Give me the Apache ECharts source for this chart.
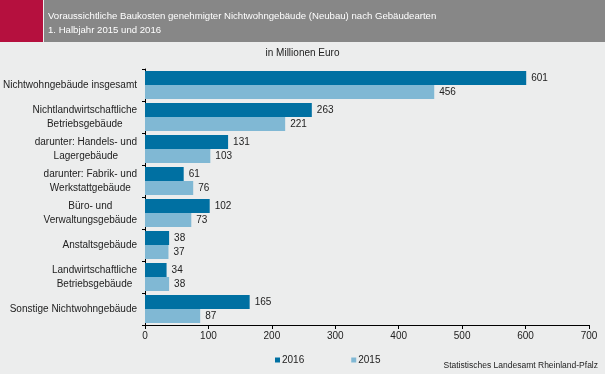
<!DOCTYPE html>
<html><head><meta charset="utf-8">
<script src="https://cdn.jsdelivr.net/npm/echarts@6/dist/echarts.min.js"></script>
<style>html,body{margin:0;padding:0;background:#ECEDED;}#c{width:605px;height:374px;}</style>
</head><body><div id="c"></div>
<script>
const categories = [
  "Nichtwohngebäude insgesamt",
  "Nichtlandwirtschaftliche\nBetriebsgebäude",
  "darunter: Handels- und\nLagergebäude",
  "darunter: Fabrik- und\nWerkstattgebäude",
  "Büro- und\nVerwaltungsgebäude",
  "Anstaltsgebäude",
  "Landwirtschaftliche\nBetriebsgebäude",
  "Sonstige Nichtwohngebäude"
];
const values2016 = [601, 263, 131, 61, 102, 38, 34, 165];
const values2015 = [456, 221, 103, 76, 73, 37, 38, 87];
const seriesNames = ["2016", "2015"];
const titleLines = ["Voraussichtliche Baukosten genehmigter Nichtwohngebäude (Neubau) nach Gebäudearten", "1. Halbjahr 2015 und 2016"];
const unitText = "in Millionen Euro";
const sourceText = "Statistisches Landesamt Rheinland-Pfalz";

const chart = echarts.init(document.getElementById('c'), null, {renderer: 'canvas'});
const font = 'Liberation Sans, Arial, sans-serif';
chart.setOption({
  backgroundColor: '#ECEDED',
  animation: false,
  textStyle: {fontFamily: font},
  graphic: [
    {type: 'rect', shape: {x: 0, y: 0, width: 43, height: 42}, style: {fill: '#B5103E'}},
    {type: 'rect', shape: {x: 44, y: 0, width: 561, height: 42}, style: {fill: '#878787'}},
    {type: 'text', left: 48, top: 9, style: {text: titleLines.join('\n'), fill: '#fff', font: '9.6px ' + font, lineHeight: 14}},
    {type: 'text', left: 'center', top: 48, style: {text: unitText, fill: '#222', font: '10px ' + font}},
    {type: 'text', right: 7, top: 361, style: {text: sourceText, fill: '#222', font: '8.5px ' + font}}
  ],
  legend: {
    data: seriesNames, left: 270, top: 350, itemWidth: 5, itemHeight: 5, itemGap: 47,
    icon: 'rect', textStyle: {fontSize: 10, color: '#222', fontFamily: font, padding: [0,0,0,-3]}
  },
  grid: {left: 145, right: 16, top: 69, bottom: 49, outerBoundsMode: 'none'},
  xAxis: {
    type: 'value', min: 0, max: 700, interval: 100,
    axisLine: {show: true, lineStyle: {color: '#000'}},
    axisTick: {show: true, length: 4, lineStyle: {color: '#000'}},
    axisLabel: {color: '#222', fontSize: 10, margin: 6, fontFamily: font},
    splitLine: {show: false}
  },
  yAxis: {
    type: 'category', data: categories, inverse: true,
    axisLine: {show: true, lineStyle: {color: '#000'}},
    axisTick: {show: true, length: 3, inside: false, lineStyle: {color: '#000'}},
    axisLabel: {
      color: '#222', fontSize: 10, margin: 8, fontFamily: font, lineHeight: 13.5,
      formatter: v => v.split('\n').map(s => '{c|' + s + '}').join('\n'),
      rich: {c: {align: 'center', fontSize: 10, color: '#222', fontFamily: font, lineHeight: 13.5}}
    }
  },
  series: [
    {name: seriesNames[0], type: 'bar', data: values2016, itemStyle: {color: '#0070A2'},
     barGap: '0%', barCategoryGap: '12.5%',
     label: {show: true, position: 'right', distance: 5, color: '#222', fontSize: 10, fontFamily: font}},
    {name: seriesNames[1], type: 'bar', data: values2015, itemStyle: {color: '#80B8D4'},
     barGap: '0%', barCategoryGap: '12.5%',
     label: {show: true, position: 'right', distance: 5, color: '#222', fontSize: 10, fontFamily: font}}
  ]
});
</script></body></html>
